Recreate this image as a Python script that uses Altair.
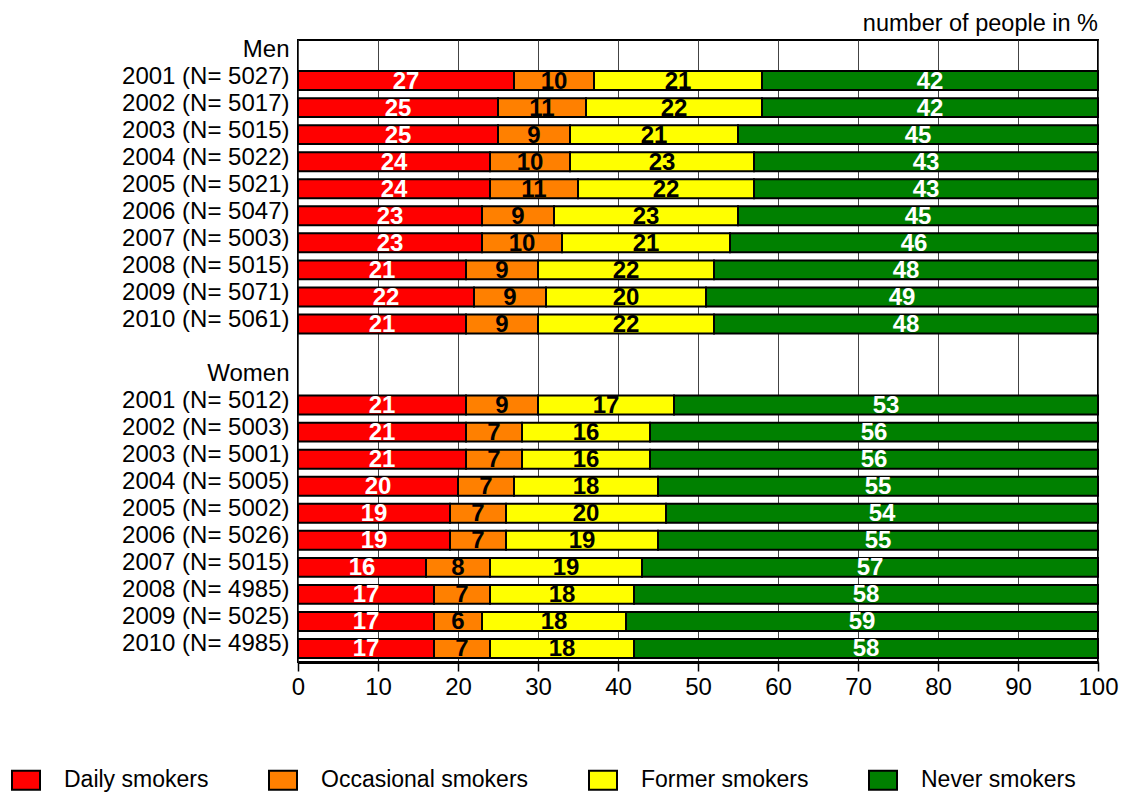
import altair as alt
import pandas as pd

categories = ["Daily smokers", "Occasional smokers", "Former smokers", "Never smokers"]
colors = ["#ff0000", "#ff8000", "#ffff00", "#008000"]

men_labels = ["2001 (N= 5027)", "2002 (N= 5017)", "2003 (N= 5015)", "2004 (N= 5022)", "2005 (N= 5021)",
              "2006 (N= 5047)", "2007 (N= 5003)", "2008 (N= 5015)", "2009 (N= 5071)", "2010 (N= 5061)"]
men_daily = [27, 25, 25, 24, 24, 23, 23, 21, 22, 21]
men_occasional = [10, 11, 9, 10, 11, 9, 10, 9, 9, 9]
men_former = [21, 22, 21, 23, 22, 23, 21, 22, 20, 22]
men_never = [42, 42, 45, 43, 43, 45, 46, 48, 49, 48]

women_labels = ["2001 (N= 5012)", "2002 (N= 5003)", "2003 (N= 5001)", "2004 (N= 5005)", "2005 (N= 5002)",
                "2006 (N= 5026)", "2007 (N= 5015)", "2008 (N= 4985)", "2009 (N= 5025)", "2010 (N= 4985)"]
women_daily = [21, 21, 21, 20, 19, 19, 16, 17, 17, 17]
women_occasional = [9, 7, 7, 7, 7, 7, 8, 7, 6, 7]
women_former = [17, 16, 16, 18, 20, 19, 19, 18, 18, 18]
women_never = [53, 56, 56, 55, 54, 55, 57, 58, 59, 58]

row_order = ["Men"] + men_labels + [" ", "Women"] + women_labels

rows = []
for labels, series in [(men_labels, [men_daily, men_occasional, men_former, men_never]),
                       (women_labels, [women_daily, women_occasional, women_former, women_never])]:
    for i, lab in enumerate(labels):
        for k, cat in enumerate(categories):
            rows.append({"row": lab, "cat": cat, "ord": k, "value": series[k][i]})
df = pd.DataFrame(rows)

FONT = "Liberation Sans"

base = alt.Chart(df).transform_stack(
    stack="value", as_=["x0", "x1"], groupby=["row"], sort=[alt.SortField("ord", order="ascending")]
)

yenc = alt.Y("row:N", scale=alt.Scale(domain=row_order, paddingInner=0.3, paddingOuter=0.15),
             axis=alt.Axis(title=None, ticks=False, domain=False, labelFontSize=24, labelFont=FONT,
                           labelColor="black", labelPadding=9, labelOffset=-4, labelLimit=400))

bars = base.mark_bar(stroke="black", strokeWidth=2, opacity=1).encode(
    x=alt.X("x0:Q", scale=alt.Scale(domain=[0, 100], nice=False),
            axis=alt.Axis(title=None, values=list(range(0, 101, 10)), grid=True, gridColor="#444",
                          gridWidth=1, tickSize=9, tickColor="black", tickWidth=1.5, domainColor="black",
                          domainWidth=3, labelFontSize=24, labelFont=FONT, labelColor="black",
                          labelPadding=4, labelFlush=False)),
    x2="x1:Q",
    y=yenc,
    color=alt.Color("cat:N", scale=alt.Scale(domain=categories, range=colors),
                    legend=alt.Legend(title=None, orient="none", direction="horizontal",
                                      legendX=-287, legendY=725,
                                      symbolType="M-1,-0.68L1,-0.68L1,0.68L-1,0.68Z",
                                      symbolSize=784, symbolStrokeColor="black", symbolStrokeWidth=2,
                                      symbolOpacity=1, labelFontSize=23, labelFont=FONT,
                                      labelColor="black", labelOffset=23, columnPadding=56,
                                      labelLimit=400)),
)

texts = base.transform_calculate(
    mid="(datum.x0 + datum.x1) / 2",
    tc="(datum.cat == 'Daily smokers' || datum.cat == 'Never smokers') ? 'white' : 'black'",
).mark_text(fontSize=24, fontWeight="bold", font=FONT, baseline="middle", align="center", dy=1).encode(
    x=alt.X("mid:Q"),
    y=alt.Y("row:N"),
    text=alt.Text("value:Q"),
    color=alt.Color("tc:N", scale=None),
)

chart = alt.layer(bars, texts).properties(
    width=800, height=622,
    title=alt.TitleParams("number of people in %", anchor="end", frame="group", fontSize=23.5,
                          fontWeight="normal", font=FONT, color="black", offset=2),
    autosize=alt.AutoSizeParams(type="none"),
    padding={"left": 290, "top": 32, "right": 21, "bottom": 133},
).configure_view(stroke="black", strokeWidth=2)

chart.save("out.html", embed_options={"renderer": "svg", "actions": False})
